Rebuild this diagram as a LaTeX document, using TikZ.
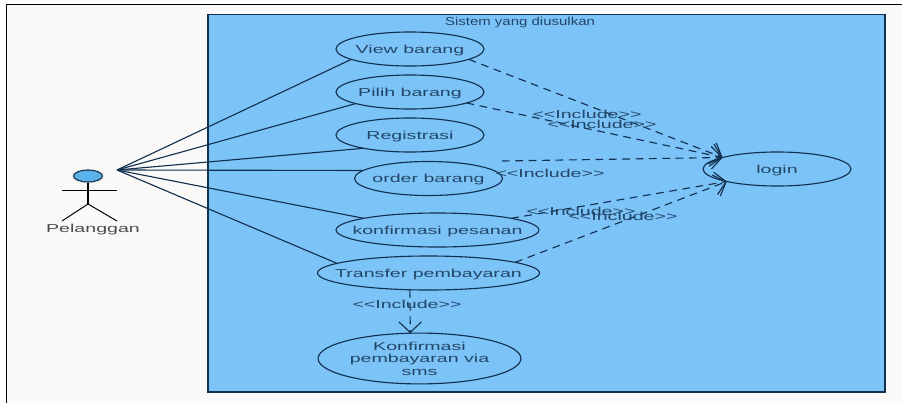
\documentclass[tikz,border=0pt]{standalone}
\usepackage{fontspec}
\setmainfont[FakeStretch=1.7]{Liberation Sans}
\newfontfamily\titlefont[FakeStretch=1.3]{Liberation Sans}
\usetikzlibrary{shapes.geometric,arrows.meta}
\definecolor{sysblue}{HTML}{7CC3F8}
\definecolor{headblue}{HTML}{5CB2E8}
\definecolor{pagewhite}{HTML}{FBF9F7}
\definecolor{inkblue}{HTML}{12304F}
\tikzset{
  usecase/.style={ellipse,draw=inkblue,line width=0.8pt,inner xsep=-14pt,inner ysep=-6pt,outer sep=0pt,text depth=0pt,text=inkblue!85!sysblue,font=\fontsize{8.2pt}{9pt}\selectfont,align=center},
  assoc/.style={draw=inkblue,line width=0.8pt},
  incl/.style={draw=inkblue,line width=0.8pt,dash pattern=on 5.5pt off 4pt,-{Straight Barb[length=7.5pt,width=16pt,line width=0.8pt]}},
  incltext/.style={text=inkblue!85!sysblue,font=\fontsize{8.2pt}{9pt}\selectfont,inner sep=0pt,text depth=0pt},
}
\begin{document}
\begin{tikzpicture}[x=0.025cm,y=-0.025cm]
\useasboundingbox (0,0) rectangle (902,403);
\fill[white] (0,0) rectangle (902,403);
\fill[pagewhite] (6.5,4.5) rectangle (902,403);
\draw[black,line width=0.9pt] (6.5,403)--(6.5,4.5)--(902,4.5);
\draw[fill=sysblue,draw=inkblue,line width=0.8pt] (208,14.5) rectangle (885,392);
\node[incltext,font=\fontsize{8.2pt}{9pt}\titlefont] (title) at (520,21) {Sistem yang diusulkan};
\node[usecase,minimum width=3.7cm,minimum height=0.85cm] (view) at (410,49) {View barang};
\node[usecase,minimum width=3.7cm,minimum height=0.85cm] (pilih) at (410,92) {Pilih barang};
\node[usecase,minimum width=3.7cm,minimum height=0.85cm] (reg) at (410,135) {Registrasi};
\node[usecase,minimum width=3.7cm,minimum height=0.85cm] (order) at (428.5,178.5) {order barang};
\node[usecase,minimum width=5.07cm,minimum height=0.85cm] (konf) at (437.5,230) {konfirmasi pesanan};
\node[usecase,minimum width=5.55cm,minimum height=0.85cm] (transfer) at (428.5,273) {Transfer pembayaran};
\node[usecase,minimum width=5.07cm,minimum height=1.27cm] (sms) at (419.5,358.5) {Konfirmasi\\pembayaran via\\sms};
\node[usecase,minimum width=3.7cm,minimum height=0.85cm] (login) at (777,169) {login};
\node[draw=inkblue,fill=headblue,ellipse,line width=0.8pt,minimum width=0.72cm,minimum height=0.3cm,inner sep=0pt] (head) at (88,176) {};
\coordinate (hub) at (117,170);
\coordinate (hip) at (88,204);
\coordinate (armL) at (62,190);
\coordinate (armR) at (117,190);
\coordinate (legL) at (62,221);
\coordinate (legR) at (117,221);
\coordinate (orderA) at (502,161);
\draw[black,line width=0.6pt] (armL)--(armR);
\draw[black,line width=0.8pt] (head)--(hip);
\draw[black,line width=0.7pt] (legL)--(hip)--(legR);
\node[incltext,text=black!70] (actor) at (93,228) {Pelanggan};
\draw[assoc] (hub)--(view.190);
\draw[assoc] (hub)--(pilih.192);
\draw[assoc] (hub)--(reg.196);
\draw[assoc] (hub)--(order.173);
\draw[assoc] (hub)--(konf.171);
\draw[assoc] (hub)--(transfer.174);
\draw[incl] (view.-10)--(login.168);
\draw[incl] (pilih.-11)--(login.168);
\draw[incl] (orderA)--(login.168);
\draw[incl] (konf.9)--(login.194);
\draw[incl] (transfer.7)--(login.194);
\draw[incl] (transfer.222)--(sms.110);
\node[incltext] (inclA) at (587,114) {<{}<Include>{}>};
\node[incltext] (inclB) at (602,124) {<{}<Include>{}>};
\node[incltext] (inclC) at (550,173) {<{}<Include>{}>};
\node[incltext] (inclD) at (581,211) {<{}<Include>{}>};
\node[incltext] (inclE) at (623,216) {<{}<Include>{}>};
\node[incltext] (inclF) at (407,304) {<{}<Include>{}>};
\end{tikzpicture}
\end{document}
